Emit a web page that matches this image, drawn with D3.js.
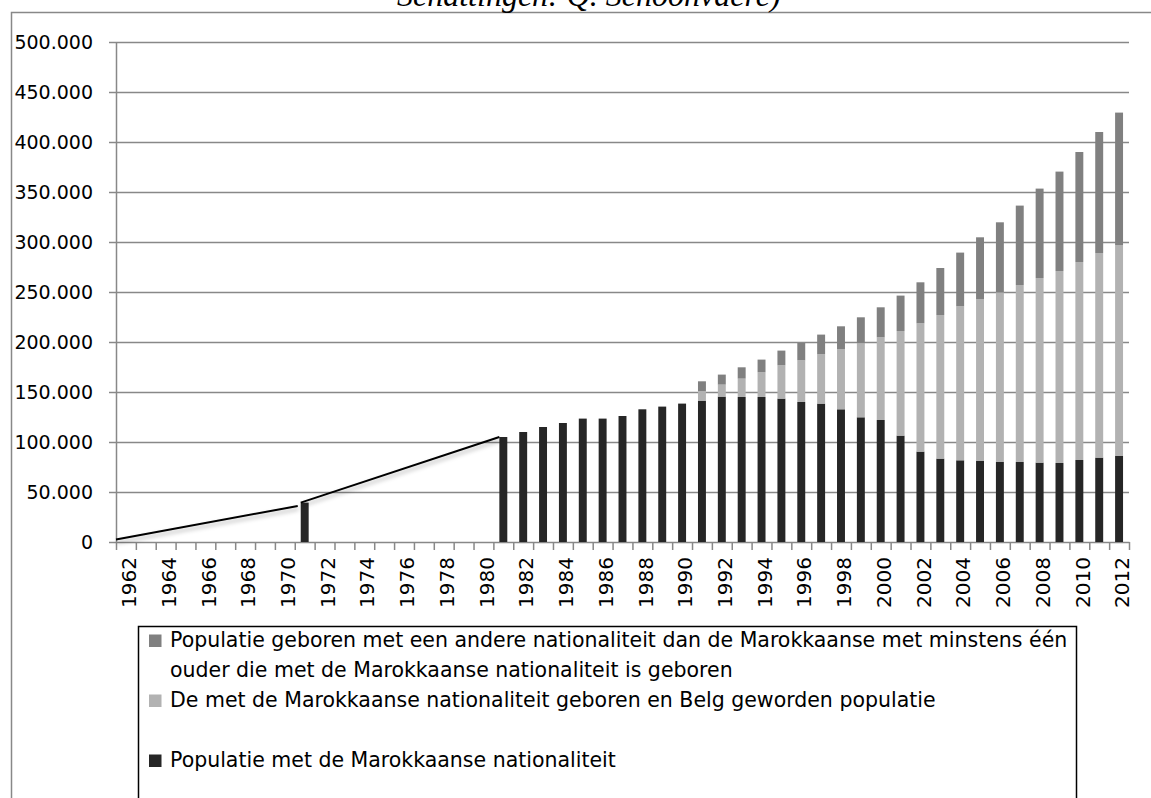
<!DOCTYPE html>
<html lang="nl">
<head>
<meta charset="UTF-8">
<title>Marokkaanse populatie in België, 1962-2012</title>
<script src="https://d3js.org/d3.v7.min.js"></script>
<style>
  body { margin: 0; background: #fff; }
  svg { display: block; font-family: "DejaVu Sans", sans-serif; }
  .axis path, .axis line { stroke: #888; stroke-width: 1.5; }
  .axis text { fill: #000; }
  .grid line { stroke: #888; stroke-width: 1.5; }
  .grid path { display: none; }
</style>
</head>
<body>
<div id="chart"></div>
<script>
  const years = [1962, 1963, 1964, 1965, 1966, 1967, 1968, 1969, 1970, 1971,
    1972, 1973, 1974, 1975, 1976, 1977, 1978, 1979, 1980, 1981,
    1982, 1983, 1984, 1985, 1986, 1987, 1988, 1989, 1990, 1991,
    1992, 1993, 1994, 1995, 1996, 1997, 1998, 1999, 2000, 2001,
    2002, 2003, 2004, 2005, 2006, 2007, 2008, 2009, 2010, 2011, 2012];

  // Populatie met de Marokkaanse nationaliteit
  const nationaliteit = [null, null, null, null, null, null, null, null, null, 39400,
    null, null, null, null, null, null, null, null, null, 105000,
    110000, 115000, 119000, 123400, 123400, 126000, 132700, 135400, 138400, 141000,
    145400, 145000, 145000, 143400, 140000, 138400, 132700, 124700, 122000, 106400,
    90400, 83400, 81700, 81000, 80000, 80000, 79400, 79000, 82000, 84400, 86000];

  // De met de Marokkaanse nationaliteit geboren en Belg geworden populatie
  const belgGeworden = [null, null, null, null, null, null, null, null, null, null,
    null, null, null, null, null, null, null, null, null, null,
    null, null, null, null, null, null, null, null, null, 10000,
    12000, 18400, 24700, 33300, 41700, 49300, 60300, 74000, 82700, 104600,
    128300, 143600, 154000, 162000, 169700, 177000, 184600, 192000, 198000, 204600, 211000];

  // Populatie geboren met een andere nationaliteit ...
  const andereNationaliteit = [null, null, null, null, null, null, null, null, null, null,
    null, null, null, null, null, null, null, null, null, null,
    null, null, null, null, null, null, null, null, null, 9700,
    10000, 11300, 12700, 14700, 17300, 19700, 22700, 26000, 30000, 35400,
    41000, 47000, 53700, 61700, 70000, 79400, 89400, 99400, 110000, 121000, 132400];

  const yTicks = [0, 50000, 100000, 150000, 200000, 250000, 300000, 350000, 400000, 450000, 500000];
  const labelYears = [1962, 1964, 1966, 1968, 1970, 1972, 1974, 1976, 1978, 1980, 1982, 1984,
    1986, 1988, 1990, 1992, 1994, 1996, 1998, 2000, 2002, 2004, 2006, 2008, 2010, 2012];

  // hand drawn connector lines between the known years
  const connectorA = [[1962, 2400], [1971, 36000]];
  const connectorB = [[1971, 39400], [1981, 105000]];

  const keys = ["nationaliteit", "belgGeworden", "andereNationaliteit"];
  const colors = {nationaliteit: "#262626", belgGeworden: "#b2b2b2", andereNationaliteit: "#808080"};
  const legendLabels = {
    andereNationaliteit: ["Populatie geboren met een andere nationaliteit dan de Marokkaanse met minstens één",
      "ouder die met de Marokkaanse nationaliteit is geboren"],
    belgGeworden: ["De met de Marokkaanse nationaliteit geboren en Belg geworden populatie"],
    nationaliteit: ["Populatie met de Marokkaanse nationaliteit"]
  };
  const legendOrder = ["andereNationaliteit", "belgGeworden", "nationaliteit"];
  const titleText = "Schattingen: Q. Schoonvaere)";

  const W = 1151, H = 798;
  const plot = {left: 116, right: 1129, top: 42, bottom: 542};

  const svg = d3.select("#chart").append("svg")
    .attr("width", W)
    .attr("height", H);

  const defs = svg.append("defs");
  defs.append("filter")
    .attr("id", "shadow")
    .attr("x", "-10%").attr("y", "-50%").attr("width", "120%").attr("height", "200%")
    .append("feDropShadow")
    .attr("dx", 1).attr("dy", 3).attr("stdDeviation", 2)
    .attr("flood-color", "#000").attr("flood-opacity", 0.3);

  // outer chart frame (runs off the page on right and bottom)
  svg.append("rect")
    .attr("x", 11.5).attr("y", 12.5)
    .attr("width", 1300).attr("height", 900)
    .attr("fill", "none")
    .attr("stroke", "#888")
    .attr("stroke-width", 1.5);

  // caption above the frame, cut off by the page top like in the source
  svg.append("text")
    .attr("x", 397)
    .attr("y", 6)
    .attr("font-family", "Liberation Serif, serif")
    .attr("font-style", "italic")
    .attr("font-size", 32)
    .attr("fill", "#000")
    .text(titleText);

  const table = years.map((yr, i) => ({
    year: yr,
    nationaliteit: nationaliteit[i] || 0,
    belgGeworden: belgGeworden[i] || 0,
    andereNationaliteit: andereNationaliteit[i] || 0
  }));

  const x = d3.scaleBand()
    .domain(years)
    .range([plot.left, plot.right])
    .paddingInner(0.6)
    .paddingOuter(0.3);

  const y = d3.scaleLinear()
    .domain([0, 500000])
    .range([plot.bottom, plot.top]);

  const nl = d3.formatLocale({decimal: ",", thousands: ".", grouping: [3], currency: ["€", ""]});
  const fmt = nl.format(",d");

  // gridlines
  svg.append("g")
    .attr("class", "grid")
    .attr("transform", "translate(" + plot.left + ",0)")
    .call(d3.axisLeft(y).tickValues(yTicks.slice(1)).tickSize(-(plot.right - plot.left)).tickFormat(""));

  // y axis
  svg.append("g")
    .attr("class", "axis")
    .attr("transform", "translate(" + plot.left + ",0)")
    .call(d3.axisLeft(y).tickValues(yTicks).tickSize(7).tickSizeOuter(0).tickPadding(16).tickFormat(fmt))
    .selectAll("text")
    .attr("font-size", 19)
    .attr("font-family", "DejaVu Sans, sans-serif");

  // x axis: tick marks between categories
  const xEdge = d3.scaleLinear().domain([0, years.length]).range([plot.left, plot.right]);
  svg.append("g")
    .attr("class", "axis")
    .attr("transform", "translate(0," + plot.bottom + ")")
    .call(d3.axisBottom(xEdge).tickValues(d3.range(years.length + 1)).tickSize(8).tickSizeOuter(0).tickFormat(""));

  // x labels, rotated
  const xLabels = svg.append("g")
    .attr("class", "axis")
    .attr("transform", "translate(0," + (plot.bottom + 15) + ")")
    .call(d3.axisBottom(x).tickValues(labelYears).tickSize(0).tickPadding(0));
  xLabels.select(".domain").remove();
  xLabels.selectAll("text")
    .attr("font-size", 20)
    .attr("font-family", "DejaVu Sans, sans-serif")
    .attr("transform", "translate(3,0) rotate(-90)")
    .attr("text-anchor", "end")
    .attr("x", 0)
    .attr("y", 0)
    .attr("dy", "0.36em");

  // stacked bars
  const stacked = d3.stack().keys(keys)(table);
  svg.append("g")
    .selectAll("g")
    .data(stacked)
    .join("g")
    .attr("fill", d => colors[d.key])
    .selectAll("rect")
    .data(d => d.filter(s => s[1] - s[0] > 0))
    .join("rect")
    .attr("x", d => x(d.data.year))
    .attr("y", d => y(d[1]))
    .attr("width", x.bandwidth())
    .attr("height", d => y(d[0]) - y(d[1]));

  // connector lines
  const catStart = yr => x(yr) - (x.step() - x.bandwidth()) / 2;
  const line = d3.line().x(d => d[0]).y(d => d[1]);
  const ptsA = [
    [catStart(connectorA[0][0]), y(connectorA[0][1])],
    [x(connectorA[1][0]) - 3, y(connectorA[1][1])]
  ];
  const ptsB = connectorB.map(d => [x(d[0]), y(d[1])]);
  svg.append("g")
    .attr("filter", "url(#shadow)")
    .selectAll("path")
    .data([ptsA, ptsB])
    .join("path")
    .attr("d", line)
    .attr("fill", "none")
    .attr("stroke", "#000")
    .attr("stroke-width", 2);

  // legend
  const legend = svg.append("g");
  legend.append("rect")
    .attr("x", 138.5).attr("y", 626.5)
    .attr("width", 938).attr("height", 300)
    .attr("fill", "#fff")
    .attr("stroke", "#000")
    .attr("stroke-width", 1.5);

  const rowH = 30;
  const items = legend.selectAll("g.item")
    .data(legendOrder)
    .join("g")
    .attr("class", "item")
    .attr("transform", (d, i) => "translate(0," + (647 + i * 2 * rowH) + ")");

  items.append("rect")
    .attr("x", 149).attr("y", -12.5)
    .attr("width", 12.5).attr("height", 12.5)
    .attr("fill", d => colors[d]);

  items.selectAll("text")
    .data(d => legendLabels[d])
    .join("text")
    .attr("x", 170)
    .attr("y", (d, i) => i * rowH)
    .attr("font-size", 20.5)
    .attr("fill", "#000")
    .text(d => d);
</script>
</body>
</html>
